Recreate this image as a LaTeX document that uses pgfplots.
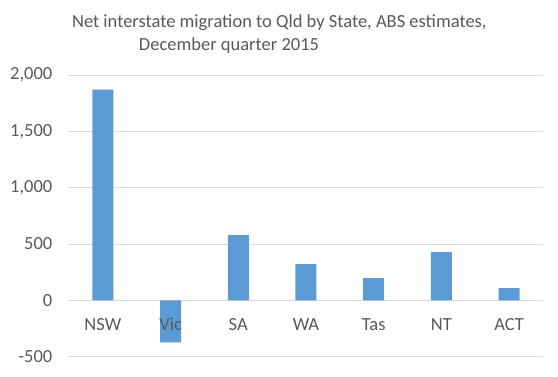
\documentclass[border=0pt]{standalone}
\usepackage{pgfplots}
\pgfplotsset{compat=1.18}
\usepackage{fontspec}
\setmainfont{Carlito}
\definecolor{barblue}{RGB}{91,155,213}
\definecolor{txtgrey}{RGB}{89,89,89}
\definecolor{gridgrey}{RGB}{217,217,217}
\pgfplotsset{common/.style={
  at={(0,0)}, anchor=south west,
  scale only axis, width=474pt, height=281.7pt,
  xmin=-0.5, xmax=6.5, ymin=-500, ymax=2000,
  axis line style={draw=none},
  major tick length=0pt,
  /pgf/number format/assume math mode=true,
  /pgf/number format/1000 sep={,},
}}
\begin{document}
\begin{tikzpicture}[x=1pt,y=1pt]
\path[use as bounding box] (-69,-19.3) rectangle (489,356.7);
\begin{axis}[
  common,
  ytick={-500,0,500,1000,1500,2000},
  xtick=\empty,
  ymajorgrids, grid style={gridgrey, line width=0.8pt},
  yticklabel style={font=\fontsize{18.5}{20}\selectfont, text=txtgrey, anchor=east, inner sep=0pt, xshift=-16.5pt},
]
\addplot[ybar, bar width=21pt, fill=barblue, draw=none] coordinates {
  (0,1871) (1,-373) (2,580) (3,321) (4,197) (5,428) (6,108)
};
\end{axis}
\begin{axis}[
  common,
  ytick=\empty,
  xtick={0,1,2,3,4,5,6},
  xticklabels={NSW,Vic,SA,WA,Tas,NT,ACT},
  xticklabel style={font=\fontsize{18.5}{20}\selectfont, text=txtgrey, anchor=base, inner sep=0pt, yshift=26pt},
]
\end{axis}
\node[anchor=base, text=txtgrey, font=\fontsize{18.5}{20}\selectfont, inner sep=0pt] at (210.3,329.4) {Net interstate migration to Qld by State, ABS estimates,};
\node[anchor=base, text=txtgrey, font=\fontsize{18.5}{20}\selectfont, inner sep=0pt] at (160,306.7) {December quarter 2015};
\end{tikzpicture}
\end{document}
